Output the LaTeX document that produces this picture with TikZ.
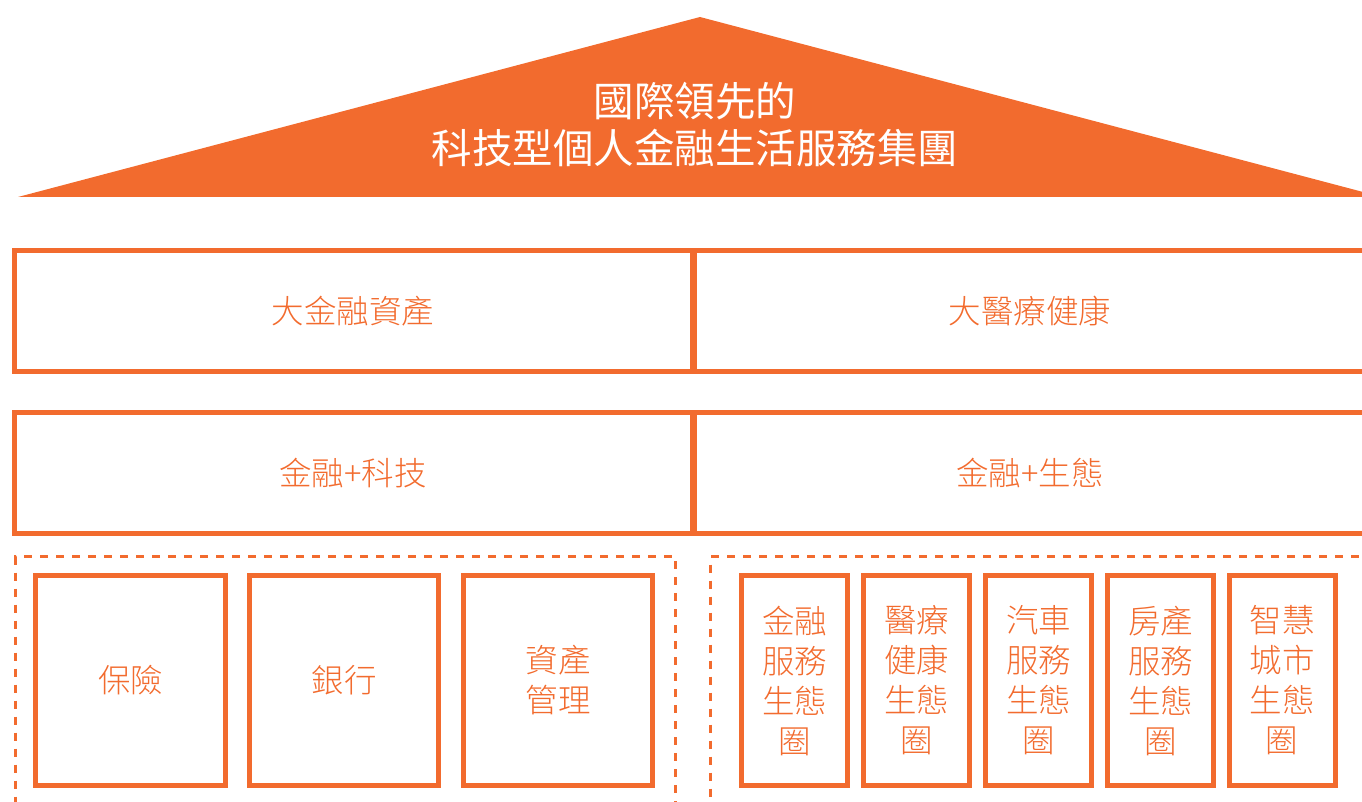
\documentclass[tikz,border=0pt]{standalone}
\usepackage{fontspec}
\setmainfont{Noto Sans CJK TC}
\newfontfamily\lightcjk{Noto Sans CJK TC Light}
\definecolor{org}{RGB}{242,107,46}
\begin{document}
\begin{tikzpicture}[x=1pt,y=-1pt,
  box/.style={draw=org, line width=5pt, inner sep=0pt, text=org, font=\lightcjk\fontsize{32.5}{40}\selectfont, align=center},
  dbox/.style={draw=org, line width=3pt, dash pattern=on 8pt off 8pt, inner sep=0pt},
  title/.style={text=white, font=\fontsize{40.5}{47}\selectfont, align=center, inner sep=0pt}]
\useasboundingbox (0,0) rectangle (1362,802);
\clip (0,0) rectangle (1362,802);
% roof
\fill[org] (18,197) -- (700,17) -- (1382,197) -- cycle;
\node[title] (t) at (695,124) {國際領先的\\科技型個人金融生活服務集團};
% row 1
\node[box, minimum width=678pt, minimum height=121pt] (a1) at (353,311) {大金融資產};
\node[box, minimum width=680pt, minimum height=121pt, anchor=west] (a2) at (692,311) {};
\node[text=org, font=\lightcjk\fontsize{32.5}{40}\selectfont] (a2t) at (1030,311) {大醫療健康};
% row 2
\node[box, minimum width=678pt, minimum height=121pt] (b1) at (353,473) {金融+科技};
\node[box, minimum width=680pt, minimum height=121pt, anchor=west] (b2) at (692,473) {};
\node[text=org, font=\lightcjk\fontsize{32.5}{40}\selectfont] (b2t) at (1030,473) {金融+生態};
% dashed groups
\node[dbox, minimum width=660pt, minimum height=280pt, anchor=north west] (g1) at (14,555) {};
\node[dbox, minimum width=680pt, minimum height=280pt, anchor=north west] (g2) at (709,555) {};
% left boxes
\node[box, minimum width=190pt, minimum height=210pt] (c1) at (130.5,680.5) {保險};
\node[box, minimum width=189pt, minimum height=210pt] (c2) at (344,680.5) {銀行};
\node[box, minimum width=189pt, minimum height=210pt] (c3) at (558,680.5) {資產\\管理};
% right boxes
\node[box, minimum width=106pt, minimum height=210pt] (d1) at (794.5,680.5) {金融\\服務\\生態\\圈};
\node[box, minimum width=106pt, minimum height=210pt] (d2) at (916.5,680.5) {醫療\\健康\\生態\\圈};
\node[box, minimum width=106pt, minimum height=210pt] (d3) at (1038.5,680.5) {汽車\\服務\\生態\\圈};
\node[box, minimum width=106pt, minimum height=210pt] (d4) at (1160.5,680.5) {房產\\服務\\生態\\圈};
\node[box, minimum width=106pt, minimum height=210pt] (d5) at (1282,680.5) {智慧\\城市\\生態\\圈};
\end{tikzpicture}
\end{document}
